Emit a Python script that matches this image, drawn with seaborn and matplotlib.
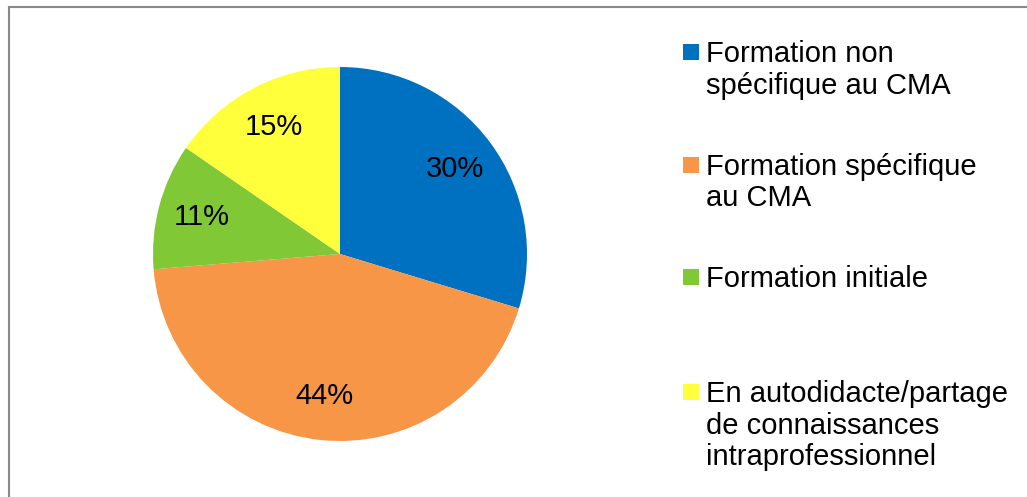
import matplotlib
matplotlib.use('Agg')
import matplotlib.pyplot as plt
import seaborn as sns
from matplotlib.patches import Rectangle

# Data (labels in the chart read 30 / 44 / 11 / 15 %)
categories = ['Formation non\nspécifique au CMA',
              'Formation spécifique\nau CMA',
              'Formation initiale',
              'En autodidacte/partage\nde connaissances\nintraprofessionnel']
shares = [29.7, 44.0, 10.9, 15.4]
colors = ['#0070C0', '#F79646', '#80C836', '#FFFF3C']

sns.set_theme(style='white')
plt.rcParams['font.family'] = ['Liberation Sans', 'DejaVu Sans']

W, H = 1027, 497
fig = plt.figure(figsize=(W / 100, H / 100), dpi=100)
fig.patch.set_facecolor('white')

# Pie: centre (340, 254) px, radius 187 px
cx, cy, r = 340, 254, 187
ax = fig.add_axes([(cx - r) / W, 1 - (cy + r) / H, 2 * r / W, 2 * r / H])
palette = sns.color_palette(colors)
ax.pie(shares, colors=palette, startangle=90, counterclock=False,
       autopct='%1.0f%%', pctdistance=0.765, radius=1,
       wedgeprops=dict(linewidth=0),
       textprops=dict(fontsize=21, color='black'))
ax.set_xlim(-1, 1)
ax.set_ylim(-1, 1)
ax.set_aspect('equal')
ax.axis('off')

# Legend drawn by hand to keep the even spacing of the original
baselines = [62, 175, 287, 402]
line_step = 31.5
for label, col, base in zip(categories, palette, baselines):
    fig.patches.append(Rectangle((683 / W, 1 - (base - 2) / H), 16 / W, 16 / H,
                                 transform=fig.transFigure, facecolor=col,
                                 edgecolor='none'))
    for i, line in enumerate(label.split('\n')):
        fig.text(706 / W, 1 - (base + i * line_step) / H, line, fontsize=21,
                 va='baseline', ha='left', color='black')

# Frame (only top and left visible in the crop)
fig.patches.append(Rectangle((8.5 / W, -0.05), 1.1, 1.05 - 6.5 / H,
                             transform=fig.transFigure, facecolor='none',
                             edgecolor='#888888', linewidth=1.5))

fig.savefig('out.png', dpi=100)
